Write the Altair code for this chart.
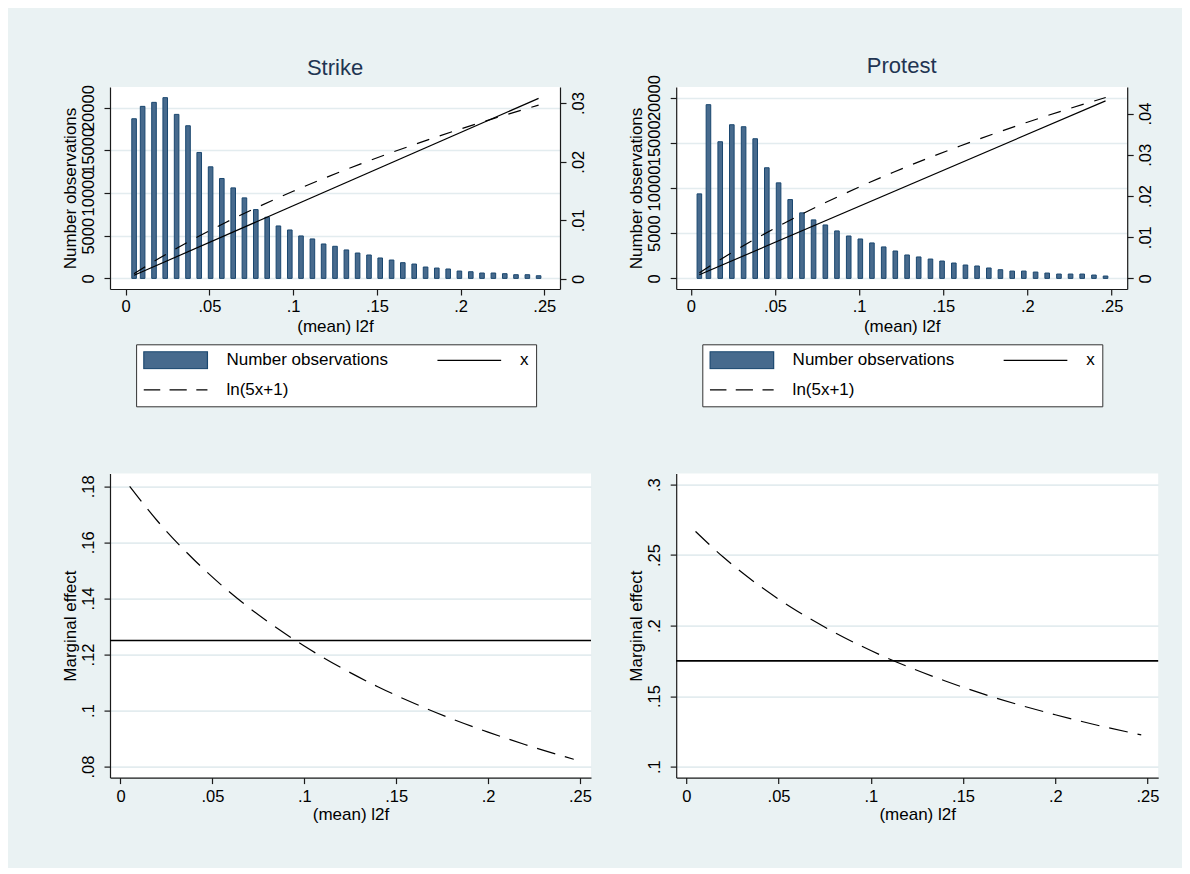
import altair as alt
import pandas as pd

FONT = "Liberation Sans"
BG = "#EAF2F3"
GRID = "#E3ECEF"
BAR_FILL = "#476A8D"
BAR_STROKE = "#1A476F"
TITLE_COLOR = "#1F3552"
LBL = "datum.value == 0 ? '0' : substring(format(datum.value, '.2~f'), 1)"

# ---------------- data ----------------
x_ticks = [0, 0.05, 0.1, 0.15, 0.2, 0.25]
count_ticks = [0, 5000, 10000, 15000, 20000]

# Strike: histogram of observations (left axis)
strike_bin_x = [0.005, 0.0101, 0.0169, 0.0236, 0.0304, 0.0372, 0.0439, 0.0507, 0.0574,
                0.0642, 0.0709, 0.0777, 0.0845, 0.0912, 0.0980, 0.1047, 0.1115, 0.1182,
                0.1250, 0.1318, 0.1385, 0.1453, 0.1520, 0.1588, 0.1655, 0.1723, 0.1791,
                0.1858, 0.1926, 0.1993, 0.2061, 0.2128, 0.2196, 0.2264, 0.2331, 0.2399, 0.2466]
strike_counts = [18700, 20150, 20620, 21170, 19210, 17880, 14750, 13070, 11700, 10600,
                 9430, 8060, 7160, 6140, 5670, 4970, 4620, 4030, 3760, 3330, 2970, 2740,
                 2390, 2150, 1840, 1680, 1330, 1210, 1100, 860, 780, 630, 630, 550, 430, 430, 310]

# Protest: histogram of observations (left axis)
protest_bin_x = [0.005, 0.0104, 0.0174, 0.0243, 0.0313, 0.0382, 0.0451, 0.0521, 0.0590,
                 0.0660, 0.0729, 0.0799, 0.0868, 0.0938, 0.1007, 0.1076, 0.1146, 0.1215,
                 0.1285, 0.1354, 0.1424, 0.1493, 0.1563, 0.1632, 0.1701, 0.1771, 0.1840,
                 0.1910, 0.1979, 0.2049, 0.2118, 0.2188, 0.2257, 0.2326, 0.2396, 0.2465]
protest_counts = [9350, 19220, 15120, 17000, 16780, 15450, 12240, 10570, 8720, 7250, 6470,
                  5910, 5250, 4690, 4360, 3920, 3480, 3030, 2590, 2370, 2140, 1920, 1700,
                  1480, 1370, 1150, 960, 810, 810, 700, 590, 480, 480, 480, 370, 260]

# curves (right axis on top panels, marginal effects on bottom panels)
curve_x = [0.005, 0.02, 0.04, 0.06, 0.08, 0.10, 0.12, 0.14, 0.16, 0.18, 0.20, 0.22, 0.2466]
strike_log = [0.00091, 0.00352, 0.00673, 0.00968, 0.01242, 0.01496, 0.01734, 0.01958,
              0.02169, 0.02368, 0.02558, 0.02738, 0.02965]
protest_log = [0.00135, 0.00521, 0.00997, 0.01435, 0.01841, 0.02218, 0.02571, 0.02903,
               0.03215, 0.03511, 0.03792, 0.04058, 0.04393]
strike_lin_x = [0.005, 0.2466]
strike_lin = [0.000625, 0.0308]
protest_lin_x = [0.005, 0.2465]
protest_lin = [0.000875, 0.0431]

strike_me = [0.1800, 0.1677, 0.1538, 0.1419, 0.1318, 0.1230, 0.1153, 0.1085, 0.1025,
             0.0971, 0.0923, 0.0879, 0.0826]
protest_me = [0.2668, 0.2486, 0.2279, 0.2104, 0.1954, 0.1823, 0.1709, 0.1609, 0.1519,
              0.1439, 0.1368, 0.1302, 0.1225]
strike_me_const = [0.125]
protest_me_const = [0.175]

# legend entries (column-major order: col 1 = first two, col 2 = last)
legend_labels = ["Number observations", "ln(5x+1)", "x"]
legend_paths = ["M-1,-0.27H1V0.27H-1Z", "M-1,0H-0.482M-0.19,0H0.35M0.65,0H1", "M-1,0H1"]
legend_fills = [BAR_FILL, "transparent", "transparent"]
legend_strokes = [BAR_STROKE, "black", "black"]


def x_enc(domain, label_pad):
    return alt.X("x:Q",
                 scale=alt.Scale(domain=domain, nice=False, zero=False),
                 axis=alt.Axis(values=x_ticks, labelExpr=LBL, title="(mean) l2f",
                               grid=False, tickSize=6, labelPadding=label_pad,
                               minExtent=24, maxExtent=24, titlePadding=5,
                               labelFlush=False, labelOverlap=False))


def top_panel(title, bx, counts, lx, ly, cy, ydom_l, ydom_r, right_ticks, xdom,
              w, h, title_dy):
    X = x_enc(xdom, 3)
    bars = alt.Chart(pd.DataFrame({"x": bx, "n": counts})).mark_bar(
        size=4.6, fill=BAR_FILL, stroke=BAR_STROKE, strokeWidth=1, opacity=1
    ).encode(
        x=X,
        y=alt.Y("n:Q", scale=alt.Scale(domain=ydom_l, nice=False, zero=True),
                axis=alt.Axis(values=count_ticks, format="d", title="Number observations",
                              orient="left", labelAngle=270, labelAlign="center",
                              labelBaseline="bottom", grid=True, gridColor=GRID,
                              gridWidth=1.6, tickSize=6, labelPadding=8,
                              minExtent=30, maxExtent=30, titlePadding=1,
                              labelFlush=False, labelOverlap=False, labelBound=False)),
    )
    rscale = alt.Scale(domain=ydom_r, nice=False, zero=False)
    solid = alt.Chart(pd.DataFrame({"x": lx, "v": ly})).mark_line(
        color="black", strokeWidth=1.2
    ).encode(
        x=X,
        y=alt.Y("v:Q", scale=rscale,
                axis=alt.Axis(values=right_ticks, labelExpr=LBL, title=None, orient="right",
                              labelAngle=270, labelAlign="center", labelBaseline="top",
                              grid=False, tickSize=6, labelPadding=4,
                              labelFlush=False, labelOverlap=False)),
    )
    dashed = alt.Chart(pd.DataFrame({"x": curve_x, "v": cy})).mark_line(
        color="black", strokeWidth=1.2, strokeDash=[13, 11], interpolate="monotone"
    ).encode(x=X, y=alt.Y("v:Q", scale=rscale, axis=None))

    leg = alt.Legend(title=None, orient="none", legendX=26.1, legendY=257.3, columns=2,
                     direction="vertical", clipHeight=18,
                     columnPadding=48.7, rowPadding=11.6, labelOffset=18.3, padding=7,
                     strokeColor="#333333", fillColor="white", labelFontSize=17,
                     labelFont=FONT, labelColor="black", labelLimit=400,
                     symbolSize=4058, symbolStrokeWidth=1.2)
    legend_layer = alt.Chart(pd.DataFrame({"x": [1.0, 1.0, 1.0], "s": legend_labels})).mark_point(
        filled=True, clip=True, opacity=1, strokeWidth=1.2
    ).encode(
        x=X,
        shape=alt.Shape("s:N", scale=alt.Scale(domain=legend_labels, range=legend_paths), legend=leg),
        fill=alt.Fill("s:N", scale=alt.Scale(domain=legend_labels, range=legend_fills), legend=leg),
        stroke=alt.Stroke("s:N", scale=alt.Scale(domain=legend_labels, range=legend_strokes), legend=leg),
    )
    return alt.layer(bars, solid, dashed, legend_layer).resolve_scale(y="independent").properties(
        width=w, height=h,
        title=alt.Title(title, fontSize=22, font=FONT, color=TITLE_COLOR, fontWeight="normal",
                        anchor="middle", frame="group", offset=0, dy=title_dy),
    )


def bottom_panel(cy, const, ydom, yticks, xdom, w, h, dash):
    X = x_enc(xdom, 5)
    yscale = alt.Scale(domain=ydom, nice=False, zero=False)
    dashed = alt.Chart(pd.DataFrame({"x": curve_x, "v": cy})).mark_line(
        color="black", strokeWidth=1.2, strokeDash=dash, interpolate="monotone"
    ).encode(
        x=X,
        y=alt.Y("v:Q", scale=yscale,
                axis=alt.Axis(values=yticks, labelExpr=LBL, title="Marginal effect",
                              orient="left", labelAngle=270, labelAlign="center",
                              labelBaseline="bottom", grid=True, gridColor=GRID,
                              gridWidth=1.6, tickSize=6, labelPadding=8,
                              minExtent=30, maxExtent=30, titlePadding=1,
                              labelFlush=False, labelOverlap=False, labelBound=False)),
    )
    rule = alt.Chart(pd.DataFrame({"v": const})).mark_rule(color="black", strokeWidth=1.6).encode(
        y=alt.Y("v:Q", scale=yscale)
    )
    return alt.layer(dashed, rule).properties(width=w, height=h)


tl = top_panel("Strike", strike_bin_x, strike_counts, strike_lin_x, strike_lin, strike_log,
               [-1244, 22418], [-0.00171, 0.03274], [0, 0.01, 0.02, 0.03],
               [-0.0064, 0.2564], 450, 202, -4.5)
tr = top_panel("Protest", protest_bin_x, protest_counts, protest_lin_x, protest_lin, protest_log,
               [-1175, 21175], [-0.00258, 0.04647], [0, 0.01, 0.02, 0.03, 0.04],
               [-0.0058, 0.2564], 451, 202, 3.8)
bl = bottom_panel(strike_me, strike_me_const, [0.07608, 0.18452],
                  [0.08, 0.1, 0.12, 0.14, 0.16, 0.18], [-0.0057, 0.2560], 481, 304, [19, 10])
br = bottom_panel(protest_me, protest_me_const, [0.0922, 0.3078],
                  [0.1, 0.15, 0.2, 0.25, 0.3], [-0.0055, 0.2558], 482, 304, [19, 10])

ind = dict(shape="independent", fill="independent", stroke="independent")
chart = alt.concat(
    tl, tr, bl, br, columns=2, bounds="flush",
    spacing={"row": 184.6, "column": 85.2},
).resolve_scale(**ind).properties(
    background=BG,
    padding={"left": 53, "top": 47, "right": 23, "bottom": 45},
).configure_view(
    stroke=None, fill="white"
).configure_axis(
    labelFont=FONT, titleFont=FONT, labelFontSize=16.5, titleFontSize=17,
    titleFontWeight="normal", labelColor="black", titleColor="black",
    domainColor="#1a1a1a", tickColor="#1a1a1a", domainWidth=1.2, tickWidth=1.2
)

chart.save("out.html", embed_options={"renderer": "svg", "actions": False})
